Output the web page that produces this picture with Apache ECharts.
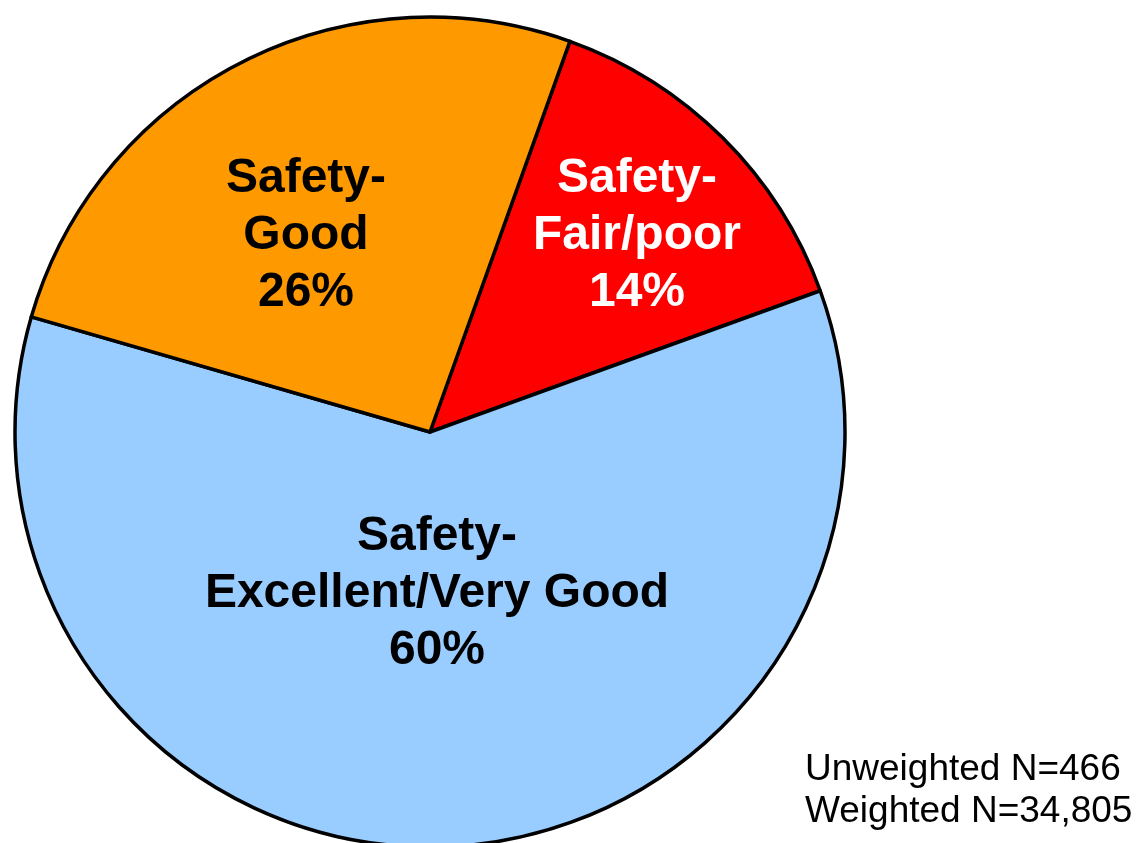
<!DOCTYPE html>
<html>
<head>
<meta charset="utf-8">
<script src="https://cdn.jsdelivr.net/npm/echarts@6/dist/echarts.min.js"></script>
<style>
  html, body { margin: 0; padding: 0; background: #fff; }
  #chart { width: 1138px; height: 843px; }
</style>
</head>
<body>
<div id="chart"></div>
<script>
// slices, clockwise from the Good / Fair-poor boundary
const categories = ['Safety-\nFair/poor', 'Safety-\nExcellent/Very Good', 'Safety-\nGood']
const values = [14, 60, 26]
const noteLines = ['Unweighted N=466', 'Weighted N=34,805']

const sliceColors = ['#FF0000', '#99CCFF', '#FF9900']
const labelColors = ['#FFFFFF', '#000000', '#000000']
// label centre offsets from the pie centre
const labelOffsets = [[207, -196], [7, 162], [-124, -196]]

const cx = 430
const cy = 432

const chart = echarts.init(document.getElementById('chart'))

const option = {
  animation: false,
  backgroundColor: '#fff',
  graphic: [
    {
      type: 'text',
      left: 805,
      top: 749,
      style: {
        text: noteLines.join('\n'),
        font: '37px "Liberation Sans", Arial, sans-serif',
        lineHeight: 42,
        fill: '#000'
      }
    }
  ],
  series: [
    {
      type: 'pie',
      center: [cx, cy],
      radius: 415,
      startAngle: 70.3,
      clockwise: true,
      avoidLabelOverlap: false,
      itemStyle: {
        borderColor: '#000',
        borderWidth: 3.5
      },
      label: {
        show: true,
        position: 'inside',
        formatter: '{b}\n{c}%',
        fontFamily: '"Liberation Sans", Arial, sans-serif',
        fontWeight: 'bold',
        fontSize: 48,
        lineHeight: 57,
        align: 'center'
      },
      labelLine: { show: false },
      labelLayout: function (params) {
        const o = labelOffsets[params.dataIndex]
        return {
          x: cx + o[0],
          y: cy + o[1],
          align: 'center',
          verticalAlign: 'middle'
        }
      },
      emphasis: { disabled: true },
      data: categories.map((name, i) => ({
        name: name,
        value: values[i],
        itemStyle: { color: sliceColors[i] },
        label: { color: labelColors[i] }
      }))
    }
  ]
}

chart.setOption(option)
window.addEventListener('resize', () => {
  chart.resize()
})
</script>
</body>
</html>
